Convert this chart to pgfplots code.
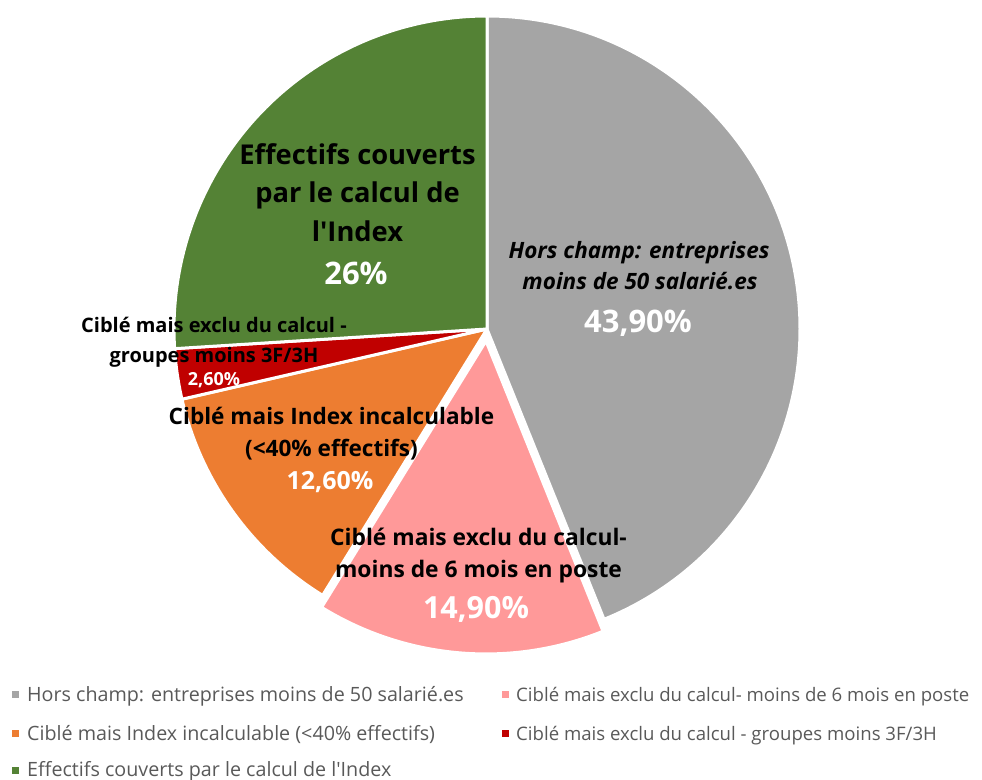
\documentclass[border=0pt]{standalone}
\usepackage{pgfplots}
\pgfplotsset{compat=1.18}
\usepackage{pgfplotstable}
\usepackage{fontspec}
\setmainfont{Open Sans}
\newcommand\apos{\XeTeXglyph\XeTeXglyphindex "quotesingle"\relax}
\definecolor{cA}{HTML}{A5A5A5}
\definecolor{cB}{HTML}{FF9999}
\definecolor{cC}{HTML}{ED7D31}
\definecolor{cD}{HTML}{C00000}
\definecolor{cE}{HTML}{548235}
\definecolor{legtext}{HTML}{595959}

\pgfplotstableread{
idx value
0 43.9
1 14.9
2 12.6
3 2.6
4 26
}\piedata
\pgfplotstablegetelem{0}{value}\of\piedata\let\vA\pgfplotsretval
\pgfplotstablegetelem{1}{value}\of\piedata\let\vB\pgfplotsretval
\pgfplotstablegetelem{2}{value}\of\piedata\let\vC\pgfplotsretval
\pgfplotstablegetelem{3}{value}\of\piedata\let\vD\pgfplotsretval
\pgfplotstablegetelem{4}{value}\of\piedata\let\vE\pgfplotsretval
\pgfmathsetmacro\aA{90}
\pgfmathsetmacro\aB{\aA-3.6*\vA}
\pgfmathsetmacro\aC{\aB-3.6*\vB}
\pgfmathsetmacro\aD{\aC-3.6*\vC}
\pgfmathsetmacro\aE{\aD-3.6*\vD}
\pgfmathsetmacro\aF{\aE-3.6*\vE}
\pgfmathsetmacro\mB{(\aB+\aC)/2}
\pgfmathsetmacro\pcx{487+12*cos(\mB)}
\pgfmathsetmacro\pcy{329-12*sin(\mB)}

\newcommand\slice[5]{% cx cy start end color
\fill[#5, draw=white, line width=3bp, line join=round] (axis cs:#1,#2) -- ++(#3:313bp) arc[start angle=#3, end angle=#4, radius=313bp] -- cycle;}

\newcommand\fs[1]{\fontsize{#1bp}{#1bp}\selectfont}
\tikzset{lab/.style={anchor=base, inner sep=0pt, font=\fs{#1}\bfseries}}

\begin{document}
\begin{tikzpicture}
\useasboundingbox (0,0) rectangle (982bp,780bp);
\begin{axis}[hide axis, scale only axis, x=1bp, y=1bp, y dir=reverse,
  xmin=0, xmax=982, ymin=0, ymax=780, clip=false]
\slice{487}{329}{\aA}{\aB}{cA}
\slice{\pcx}{\pcy}{\aB}{\aC}{cB}
\slice{487}{329}{\aC}{\aD}{cC}
\slice{487}{329}{\aD}{\aE}{cD}
\slice{487}{329}{\aE}{\aF}{cE}

% green
\node[lab=27.3] at (axis cs:357.5,164) {Effectifs couverts};
\node[lab=27.3] at (axis cs:357.5,202) {par le calcul de};
\node[lab=27.3] at (axis cs:357.5,241) {l\apos Index};
\node[lab=31, text=white] at (axis cs:356,284) {26\%};
% gray
\node[lab=22.5, font=\fs{22.5}\bfseries\itshape] at (axis cs:639,258) {Hors champ: entreprises};
\node[lab=22.5, font=\fs{22.5}\bfseries\itshape] at (axis cs:640,289) {moins de 50 salarié.es};
\node[lab=31, text=white] at (axis cs:638,332) {43,90\%};
% pink
\node[lab=22.8] at (axis cs:478.5,545) {Ciblé mais exclu du calcul-};
\node[lab=22.8] at (axis cs:478.5,577) {moins de 6 mois en poste};
\node[lab=30.5, text=white] at (axis cs:476,618) {14,90\%};
% orange
\node[lab=22.6] at (axis cs:331.5,424) {Ciblé mais Index incalculable};
\node[lab=22.6] at (axis cs:331.5,456) {(<40\% effectifs)};
\node[lab=25, text=white] at (axis cs:330,489) {12,60\%};
% red
\node[lab=20] at (axis cs:214,332) {Ciblé mais exclu du calcul -};
\node[lab=20] at (axis cs:214,362) {groupes moins 3F/3H};
\node[lab=18, text=white] at (axis cs:214,385) {2,60\%};

% legend
\tikzset{leg/.style={anchor=base west, inner sep=0pt, font=\fs{19.7}, text=legtext},
         legr/.style={anchor=base west, inner sep=0pt, font=\fs{18.6}, text=legtext}}
\fill[cA] (axis cs:11.5,690.5) rectangle (axis cs:18.5,697.5);
\node[leg] at (axis cs:27,701) {Hors champ: entreprises moins de 50 salarié.es};
\fill[cB] (axis cs:501.5,690.5) rectangle (axis cs:508.5,697.5);
\node[legr] at (axis cs:516,701) {Ciblé mais exclu du calcul- moins de 6 mois en poste};
\fill[cC] (axis cs:11.5,729.5) rectangle (axis cs:18.5,736.5);
\node[leg] at (axis cs:27,740) {Ciblé mais Index incalculable (<40\% effectifs)};
\fill[cD] (axis cs:501.5,729.5) rectangle (axis cs:508.5,736.5);
\node[legr] at (axis cs:516,740) {Ciblé mais exclu du calcul - groupes moins 3F/3H};
\fill[cE] (axis cs:11.5,766.5) rectangle (axis cs:18.5,773.5);
\node[leg] at (axis cs:27,776) {Effectifs couverts par le calcul de l\apos Index};
\end{axis}
\end{tikzpicture}
\end{document}
